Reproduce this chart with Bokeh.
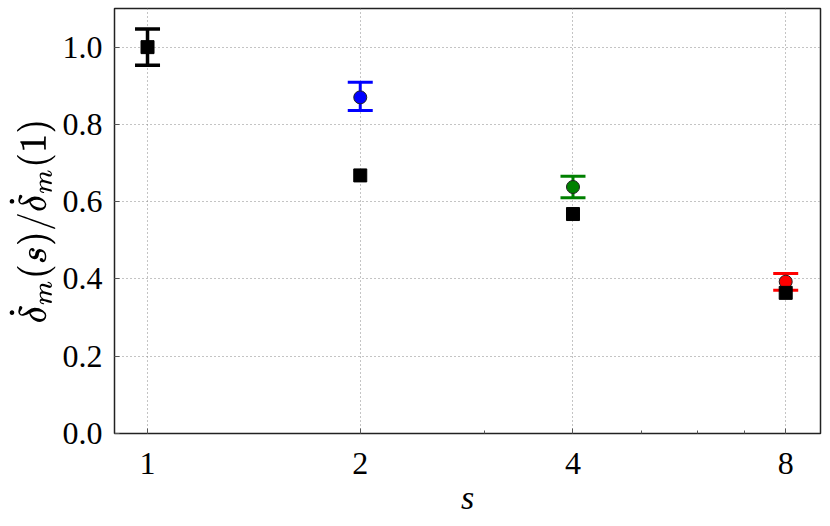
from bokeh.plotting import figure
from bokeh.models import (ColumnDataSource, Whisker, TeeHead, FixedTicker,
                          NumeralTickFormatter, Range1d)
from bokeh.embed import file_html
from bokeh.resources import INLINE

# data
s_vals = [1, 2, 4, 8]
ratio_sim = [1.0, 0.870, 0.638, 0.393]
ratio_upper = [1.047, 0.909, 0.666, 0.414]
ratio_lower = [0.953, 0.836, 0.610, 0.371]
point_colors = ["black", "blue", "green", "red"]
ratio_model = [1.0, 0.668, 0.568, 0.364]
x_tick_labels = {1: "1", 2: "2", 4: "4", 8: "8"}
y_ticks = [0.0, 0.2, 0.4, 0.6, 0.8, 1.0]

SERIF = "Liberation Serif"

p = figure(width=830, height=526, x_axis_type="log",
           x_range=Range1d(0.898, 8.96), y_range=Range1d(0, 1.1),
           output_backend="svg", toolbar_location=None,
           min_border_left=114, min_border_right=10, min_border_top=8,
           min_border_bottom=93)
p.background_fill_color = "white"
p.border_fill_color = "white"
p.outline_line_color = "#222222"
p.outline_line_width = 1.5

# error bars, one per colour
for i in range(len(s_vals)):
    src = ColumnDataSource(dict(x=[s_vals[i]], up=[ratio_upper[i]], lo=[ratio_lower[i]]))
    c = point_colors[i]
    lw = 3.5 if c == "black" else 3
    w = Whisker(source=src, base="x", upper="up", lower="lo",
                line_color=c, line_width=lw,
                upper_head=TeeHead(size=25, line_color=c, line_width=lw),
                lower_head=TeeHead(size=25, line_color=c, line_width=lw))
    p.add_layout(w)

sim_src = ColumnDataSource(dict(x=s_vals[1:], y=ratio_sim[1:], c=point_colors[1:]))
p.scatter("x", "y", source=sim_src, marker="circle", size=13,
          fill_color="c", line_color="#222222", line_width=1)

p.scatter(s_vals, ratio_model, marker="square", size=13,
          fill_color="black", line_color="black")

# axes
p.xaxis.ticker = FixedTicker(ticks=s_vals, minor_ticks=[3, 5, 6, 7])
p.xaxis.major_label_overrides = x_tick_labels
p.yaxis.ticker = FixedTicker(ticks=y_ticks)
p.yaxis.formatter = NumeralTickFormatter(format="0.0")

for ax in (p.xaxis, p.yaxis):
    ax.axis_line_color = None
    ax.major_tick_in = 5
    ax.major_tick_out = 0
    ax.minor_tick_in = 3
    ax.minor_tick_out = 0
    ax.major_tick_line_color = "#555555"
    ax.minor_tick_line_color = "#555555"
    ax.major_label_text_font = SERIF
    ax.major_label_text_font_size = "32px"
    ax.major_label_text_color = "black"
    ax.axis_label_text_color = "black"
p.yaxis.minor_tick_line_color = None
p.xaxis.major_label_standoff = 19
p.yaxis.major_label_standoff = 12

p.xaxis.axis_label = "s"
p.xaxis.axis_label_text_font = SERIF
p.xaxis.axis_label_text_font_style = "italic"
p.xaxis.axis_label_text_font_size = "34px"
p.xaxis.axis_label_standoff = 2

p.yaxis.axis_label = r"$$\dot{\delta}_m(s)/\dot{\delta}_m(1)$$"
p.yaxis.axis_label_text_font_size = "31px"
p.yaxis.axis_label_standoff = 4

for g in (p.xgrid, p.ygrid):
    g.grid_line_color = "#888888"
    g.grid_line_dash = "1 3"
    g.grid_line_width = 1

open("out.html", "w").write(file_html(p, INLINE))
